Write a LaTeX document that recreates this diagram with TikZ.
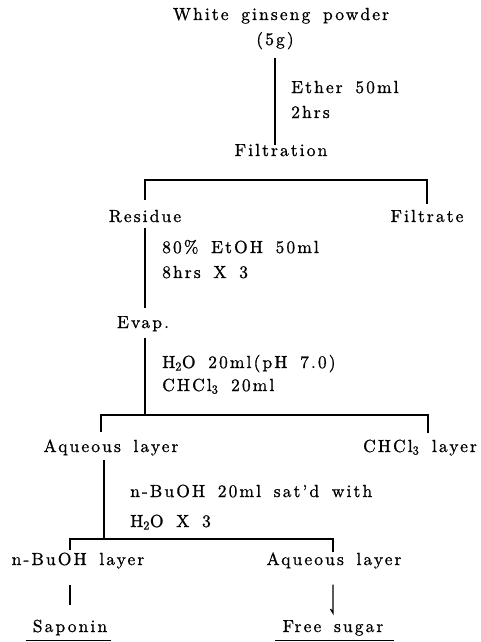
\documentclass[tikz,border=0pt]{standalone}
\usepackage{fontspec}
\setmainfont{lmroman10-regular.otf}[LetterSpace=12,WordSpace=1.6,FakeBold=1]
\begin{document}
\begin{tikzpicture}[x=1pt,y=-1pt,
  txt/.style={inner sep=0pt, text height=11pt, text depth=3.5pt,
    font=\fontsize{17.5}{20}\selectfont},
  ln/.style={line width=1.3pt},
  ul/.style={line width=0.9pt}]
\useasboundingbox (0,0) rectangle (480,642);
% nodes
\node[txt,anchor=base] (wgp) at (281,20) {White ginseng powder};
\node[txt,anchor=base] (g5) at (275,45) {(5g)};
\node[txt,anchor=base west] (eth1) at (291,93) {Ether 50ml};
\node[txt,anchor=base west] (eth2) at (291,118) {2hrs};
\node[txt,anchor=base] (filt) at (281,156) {Filtration};
\node[txt,anchor=base] (res) at (145,222) {Residue};
\node[txt,anchor=base] (ftr) at (427,222) {Filtrate};
\node[txt,anchor=base west] (et1) at (162,253) {80\% EtOH 50ml};
\node[txt,anchor=base west] (et2) at (162,278) {8hrs X 3};
\node[txt,anchor=base] (evap) at (143,328) {Evap.};
\node[txt,anchor=base west] (h1) at (162,368) {H\textsubscript{2}O 20ml(pH 7.0)};
\node[txt,anchor=base west] (h2) at (162,391) {CHCl\textsubscript{3} 20ml};
\node[txt,anchor=base] (aq1) at (111,452) {Aqueous layer};
\node[txt,anchor=base] (chl) at (420,452) {CHCl\textsubscript{3} layer};
\node[txt,anchor=base west] (bu1) at (130,497) {n-BuOH 20ml sat'd with};
\node[txt,anchor=base west] (bu2) at (130,527) {H\textsubscript{2}O X 3};
\node[txt,anchor=base] (nbl) at (78,565) {n-BuOH layer};
\node[txt,anchor=base] (aq2) at (334,565) {Aqueous layer};
\node[txt,anchor=base] (sap) at (70,632) {Saponin};
\node[txt,anchor=base] (fs) at (333,632) {Free sugar};
% bracket corner coordinates
\coordinate (b1) at (145,180);
\coordinate (b2) at (145,415);
\coordinate (b2l) at (101,432);
\coordinate (b2r) at (428,433);
\coordinate (b3) at (104,539);
\coordinate (b3l) at (70,550);
\coordinate (b3r) at (333,552);
\coordinate (hk) at (333,613);
% connectors
\draw[ln,shorten <=9pt] (g5.south) -- (g5.south |- filt.north);
\draw[ln] ([yshift=11pt]res.north) -- (res.north |- b1) -| ([yshift=7pt]ftr.north);
\draw[ln,shorten <=2pt,shorten >=9pt] (res.south) -- (res.south |- evap.north);
\draw[ln,shorten <=6pt] (res.south |- evap.south) -- (b2);
\draw[ln] (b2l) -- (b2l |- b2) -| (b2r);
\draw[ln,shorten <=4pt] (b3 |- aq1.south) -- (b3);
\draw[ln] (b3l) -- (b3l |- b3) -| (b3r);
\draw[ln,shorten <=16pt,shorten >=16pt] (sap |- nbl.south) -- (sap.north);
\draw[ln,shorten <=16pt] (hk |- aq2.south) -- (hk) -- ++(-2.5,-4);
% underlines
\draw[ul] ([yshift=-4.5pt]sap.south west) ++(-7,0) -- ([yshift=-4.5pt,xshift=4pt]sap.south east);
\draw[ul] ([yshift=-4.5pt]fs.south west) ++(-7,0) -- ([yshift=-4.5pt,xshift=10pt]fs.south east);
\end{tikzpicture}
\end{document}
